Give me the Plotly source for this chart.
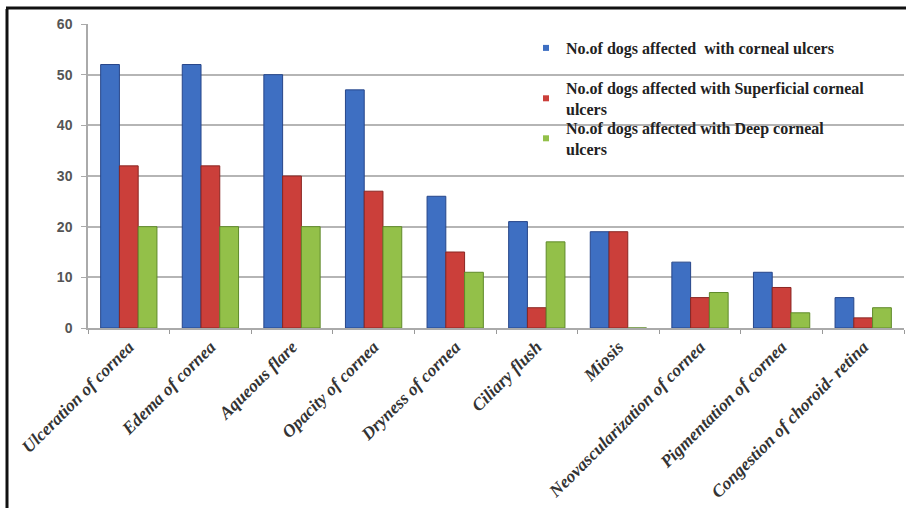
import plotly.graph_objects as go

categories = [
    "Ulceration of cornea", "Edema of cornea", "Aqueous flare", "Opacity of cornea",
    "Dryness of cornea", "Ciliary flush", "Miosis", "Neovascularization of cornea",
    "Pigmentation of cornea", "Congestion of choroid- retina",
]
total_ulcers = [52, 52, 50, 47, 26, 21, 19, 13, 11, 6]
superficial_ulcers = [32, 32, 30, 27, 15, 4, 19, 6, 8, 2]
deep_ulcers = [20, 20, 20, 20, 11, 17, 0, 7, 3, 4]

series_names = [
    "No.of dogs affected  with corneal ulcers",
    "No.of dogs affected with Superficial corneal<br>ulcers",
    "No.of dogs affected with Deep corneal<br>ulcers",
]
y_ticks = [0, 10, 20, 30, 40, 50, 60]

fills = ["#3e6fc2", "#cb3f3a", "#93c049"]
edges = ["#27468a", "#8a2622", "#5f8a2a"]
series = [total_ulcers, superficial_ulcers, deep_ulcers]
legend_ids = ["legend", "legend2", "legend3"]

fig = go.Figure()
for vals, name, fc, ec in zip(series, series_names, fills, edges):
    fig.add_trace(go.Bar(
        x=categories, y=vals, name=name, showlegend=False,
        marker=dict(color=fc, line=dict(color=ec, width=1)),
    ))
# small square legend keys, one legend box per series
for name, fc, lid in zip(series_names, fills, legend_ids):
    fig.add_trace(go.Scatter(
        x=[None], y=[None], mode="markers", name=name, legend=lid,
        marker=dict(symbol="square", size=6, color=fc),
    ))

W, H = 906, 508
ml, mr, mt, mb = 88, 2, 24, 180
pw, ph = W - ml - mr, H - mt - mb

def px_x(x):
    return (x - ml) / pw

def px_y(y):
    return 1 - (y - mt) / ph

# page frame (left and top edges)
fig.add_shape(type="line", xref="paper", yref="paper",
              x0=px_x(7), x1=px_x(7), y0=px_y(9), y1=px_y(510),
              line=dict(color="#111", width=3))
fig.add_shape(type="line", xref="paper", yref="paper",
              x0=px_x(6), x1=px_x(908), y0=px_y(8), y1=px_y(8),
              line=dict(color="#111", width=3))

legend_font = dict(family="Liberation Serif", size=16, color="#222", weight="bold")

def legend_box(top_px):
    return dict(
        x=px_x(526), y=px_y(top_px), xanchor="left", yanchor="top",
        bgcolor="rgba(0,0,0,0)", font=legend_font, itemwidth=30,
    )

fig.update_layout(
    width=W, height=H,
    margin=dict(l=ml, r=mr, t=mt, b=mb, autoexpand=False),
    paper_bgcolor="white", plot_bgcolor="white",
    barmode="group", bargap=0.31, bargroupgap=0,
    legend=legend_box(31),
    legend2=legend_box(71),
    legend3=legend_box(111),
    font=dict(family="Liberation Sans"),
)
fig.update_xaxes(
    type="category", tickangle=-45, tickson="boundaries", automargin=False,
    ticks="outside", ticklen=4, tickcolor="#999",
    showline=True, linecolor="#aaa", linewidth=1.5,
    tickfont=dict(family="Liberation Serif", size=17.5, color="#333",
                  style="italic", weight="bold"),
)
fig.update_yaxes(
    range=[0, 60], tickvals=y_ticks, ticks="outside", ticklen=5, tickcolor="#aaa",
    showline=True, linecolor="#aaa", linewidth=1.5, ticklabelstandoff=6,
    automargin=False,
    showgrid=True, gridcolor="#b5b5b5", gridwidth=1.5, zeroline=False,
    tickfont=dict(family="Liberation Sans", size=14, color="#555", weight="bold"),
)

fig.write_html("out.html")
